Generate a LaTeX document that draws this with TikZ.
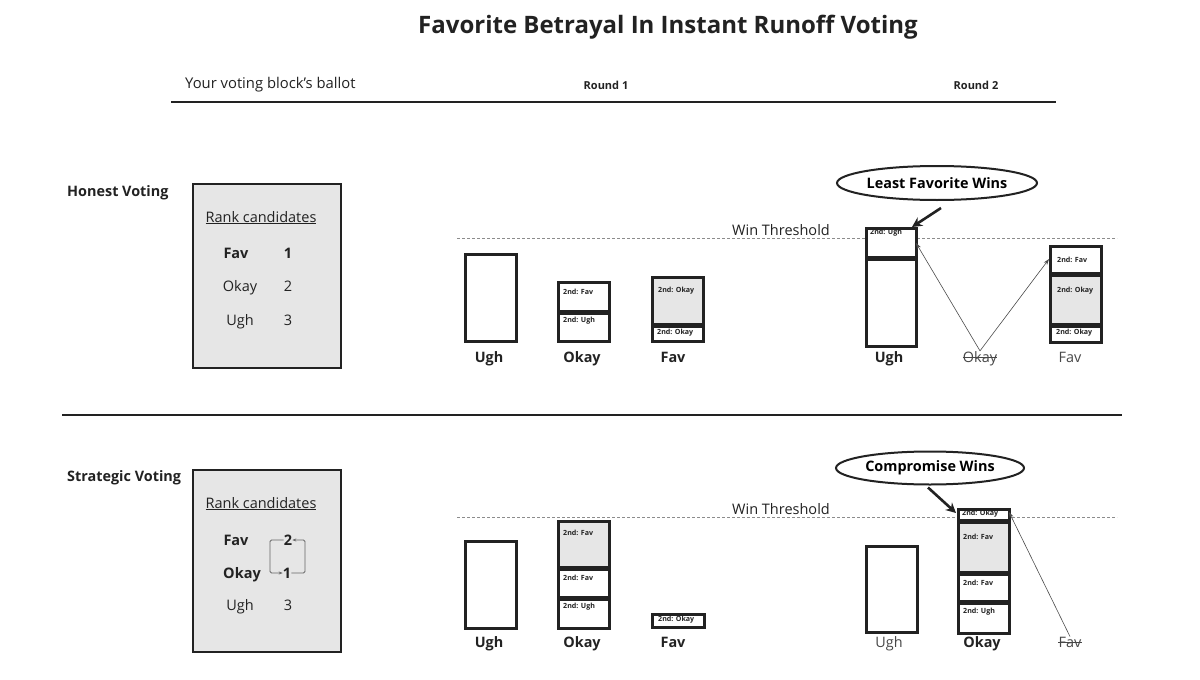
\documentclass[tikz,border=0pt]{standalone}
\usepackage{fontspec}
\setmainfont{Open Sans}
\usetikzlibrary{shapes.geometric,arrows.meta}
\definecolor{segfill}{HTML}{E6E6E6}
\definecolor{ink}{HTML}{222222}
\tikzset{
  seg/.style={draw=ink, line width=2.6pt, fill=white, inner sep=0pt, anchor=north west, minimum width=51pt},
  gseg/.style={seg, fill=segfill},
  sep/.style={draw=ink, line width=4pt},
  st/.style={font=\fontsize{7.1}{8}\selectfont\bfseries, anchor=west, inner sep=0pt, text=ink},
  blab/.style={font=\fontsize{14.4}{16}\selectfont\bfseries, inner sep=0pt, text=ink, anchor=base},
  nlab/.style={font=\fontsize{14.4}{16}\selectfont, inner sep=0pt, text=black!72, anchor=base},
  strike/.style={draw=black!72, line width=0.8pt},
  thresh/.style={draw=black!45, densely dashed, line width=0.7pt},
  thin arrow/.style={draw=black!70, line width=0.6pt, -{Stealth[length=6pt,width=4pt]}},
  call arrow/.style={draw=ink, line width=2.6pt, -{Stealth[length=10pt,width=10pt]}},
  callout/.style={draw=ink, line width=2pt, ellipse, inner sep=0pt, font=\fontsize{14.4}{16}\selectfont\bfseries},
  ballot/.style={draw=ink, line width=2.2pt, fill=segfill, inner sep=0pt, anchor=north west, minimum width=148pt, minimum height=184pt},
  btxt/.style={font=\fontsize{14.5}{16}\selectfont, inner sep=0pt, text=ink, anchor=base},
  bbtxt/.style={btxt, font=\fontsize{14.5}{16}\selectfont\bfseries},
  cyc/.style={draw=black!60, line width=0.8pt, rounded corners=1.5pt, -{Stealth[length=4pt,width=3pt]}},
}
\begin{document}
\begin{tikzpicture}[x=1pt,y=-1pt]
\useasboundingbox[fill=white] (0,0) rectangle (1200,680);

% header
\node[font=\fontsize{24}{28}\selectfont\bfseries, text=ink] (title) at (668,27) {Favorite Betrayal In Instant Runoff Voting};
\node[font=\fontsize{14.8}{16}\selectfont, text=ink, anchor=west, inner sep=0pt] (ballothead) at (185,85) {Your voting block's ballot};
\node[font=\fontsize{11}{12}\selectfont\bfseries, text=ink] (r1) at (606,85) {Round 1};
\node[font=\fontsize{11}{12}\selectfont\bfseries, text=ink] (r2) at (976,85) {Round 2};
\draw[ink, line width=2pt] (171,102) -- (1056,102);
\draw[ink, line width=2pt] (62,415) -- (1122,415);

% ===== Honest voting =====
\node[font=\fontsize{14.4}{16}\selectfont\bfseries, anchor=west, inner sep=0pt, text=ink] (honest) at (67,193) {Honest Voting};
\node[ballot] (hballot) at (192,183) {};
\node[btxt] (hrank) at (261,222) {\underline{Rank candidates}};
\node[bbtxt] (hfav) at (236,258) {Fav};
\node[bbtxt] (hone) at (288,258) {1};
\node[btxt] (hokay) at (240,291) {Okay};
\node[btxt] (htwo) at (288,291) {2};
\node[btxt] (hugh) at (240,325) {Ugh};
\node[btxt] (hthree) at (288,325) {3};

\draw[thresh] (457,238) -- (1117,238);
\node[btxt] (hthr) at (781,235) {Win Threshold};

% round 1
\node[seg, minimum height=87pt] (ugh1) at (464,253) {};
\node[seg, minimum height=31pt] (okay1a) at (557,281) {};
\node[seg, minimum height=28pt] (okay1b) at (557,312) {};
\draw[sep] (okay1b.north west) -- (okay1b.north east);
\node[st] (okay1at) at (563,292) {2nd: Fav};
\node[st] (okay1bt) at (563,321) {2nd: Ugh};
\node[gseg, minimum height=49pt] (fav1a) at (651,276) {};
\node[seg, minimum height=15pt] (fav1b) at (651,325) {};
\draw[sep] (fav1b.north west) -- (fav1b.north east);
\node[st] (fav1at) at (658,291) {2nd: Okay};
\node[st] (fav1bt) at (657,333) {2nd: Okay};
\node[blab] (lugh1) at (489,362) {Ugh};
\node[blab] (lokay1) at (582,362) {Okay};
\node[blab] (lfav1) at (673,362) {Fav};

% round 2
\node[seg, minimum width=50pt, minimum height=31pt] (ugh2a) at (865,227) {};
\node[seg, minimum width=50pt, minimum height=87pt] (ugh2b) at (865,258) {};
\draw[sep] (ugh2b.north west) -- (ugh2b.north east);
\node[st] (ugh2at) at (870,233) {2nd: Ugh};
\node[seg, minimum height=29pt] (fav2a) at (1049,245) {};
\node[gseg, minimum height=51pt] (fav2b) at (1049,274) {};
\node[seg, minimum height=16pt] (fav2c) at (1049,325) {};
\draw[sep] (fav2b.north west) -- (fav2b.north east);
\draw[sep] (fav2c.north west) -- (fav2c.north east);
\node[st] (fav2at) at (1057,260) {2nd: Fav};
\node[st] (fav2bt) at (1057,291) {2nd: Okay};
\node[st] (fav2ct) at (1056,333) {2nd: Okay};
\node[blab] (lugh2) at (889,362) {Ugh};
\node[nlab] (lokay2) at (980,362) {Okay};
\draw[strike] ([yshift=5pt]lokay2.base west) -- ([yshift=5pt]lokay2.base east);
\node[nlab] (lfav2) at (1070,362) {Fav};

\coordinate (htipL) at (916,243);
\coordinate (htipR) at (1049,259);
\draw[thin arrow] (lokay2.north) -- (htipL);
\draw[thin arrow] (lokay2.north) -- (htipR);

\node[callout, minimum width=200pt, minimum height=34pt] (call1) at (937,183) {Least Favorite Wins};
\coordinate (c1tip) at (912,227);
\draw[call arrow] (call1.south) ++(4,7) -- (c1tip);

% ===== Strategic voting =====
\node[font=\fontsize{14.4}{16}\selectfont\bfseries, anchor=west, inner sep=0pt, text=ink] (strat) at (67,478) {Strategic Voting};
\node[ballot, minimum height=182pt] (sballot) at (192,469) {};
\node[btxt] (srank) at (261,508) {\underline{Rank candidates}};
\node[bbtxt] (sfav) at (236,545) {Fav};
\node[bbtxt] (stwo) at (288,545) {2};
\node[bbtxt] (sokay) at (242,578) {Okay};
\node[bbtxt] (sone) at (287,578) {1};
\node[btxt] (sugh) at (240,610) {Ugh};
\node[btxt] (sthree) at (288,610) {3};
\coordinate (c2L) at (270,540);
\coordinate (c1L) at (270,573);
\coordinate (c1R) at (305,573);
\coordinate (c2R) at (305,540);
\draw[cyc] (stwo.west |- c2L) -- (c2L) -- (c1L) -- (sone.west |- c1L);
\draw[cyc] (sone.east |- c1R) -- (c1R) -- (c2R) -- (stwo.east |- c2R);

\draw[thresh] (457,517) -- (1117,517);
\node[btxt] (sthr) at (781,514) {Win Threshold};

% round 1
\node[seg, minimum height=87pt] (ugh3) at (464,540) {};
\node[gseg, minimum height=48pt] (okay3a) at (557,520) {};
\node[seg, minimum height=30pt] (okay3b) at (557,568) {};
\node[seg, minimum height=29pt] (okay3c) at (557,598) {};
\draw[sep] (okay3b.north west) -- (okay3b.north east);
\draw[sep] (okay3c.north west) -- (okay3c.north east);
\node[st] (okay3at) at (563,533) {2nd: Fav};
\node[st] (okay3bt) at (563,578) {2nd: Fav};
\node[st] (okay3ct) at (563,607) {2nd: Ugh};
\node[seg, minimum width=52pt, minimum height=13pt] (fav3) at (651,613) {};
\node[st] (fav3t) at (658,620) {2nd: Okay};
\node[blab] (lugh3) at (489,647) {Ugh};
\node[blab] (lokay3) at (582,647) {Okay};
\node[blab] (lfav3) at (673,647) {Fav};

% round 2
\node[seg, minimum height=86pt] (ugh4) at (865,545) {};
\node[seg, minimum height=12pt] (okay4a) at (957,508) {};
\node[gseg, minimum height=52pt] (okay4b) at (957,521) {};
\node[seg, minimum height=29pt] (okay4c) at (957,573) {};
\node[seg, minimum height=30pt] (okay4d) at (957,602) {};
\draw[sep] (okay4b.north west) -- (okay4b.north east);
\draw[sep] (okay4c.north west) -- (okay4c.north east);
\draw[sep] (okay4d.north west) -- (okay4d.north east);
\node[st] (okay4at) at (962,513.5) {2nd: Okay};
\node[st] (okay4bt) at (963,537) {2nd: Fav};
\node[st] (okay4ct) at (963,583) {2nd: Fav};
\node[st] (okay4dt) at (963,612) {2nd: Ugh};
\node[nlab] (lugh4) at (889,647) {Ugh};
\node[blab] (lokay4) at (982,647) {Okay};
\node[nlab] (lfav4) at (1070,647) {Fav};
\draw[strike] ([yshift=5pt]lfav4.base west) -- ([yshift=5pt]lfav4.base east);

\coordinate (stip) at (1009,512);
\draw[thin arrow] (lfav4.north) -- (stip);

\node[callout, minimum width=188pt, minimum height=33pt] (call2) at (930,468) {Compromise Wins};
\coordinate (c2tip) at (956,513);
\draw[call arrow] (call2.south) ++(-2,2) -- (c2tip);
\end{tikzpicture}
\end{document}
